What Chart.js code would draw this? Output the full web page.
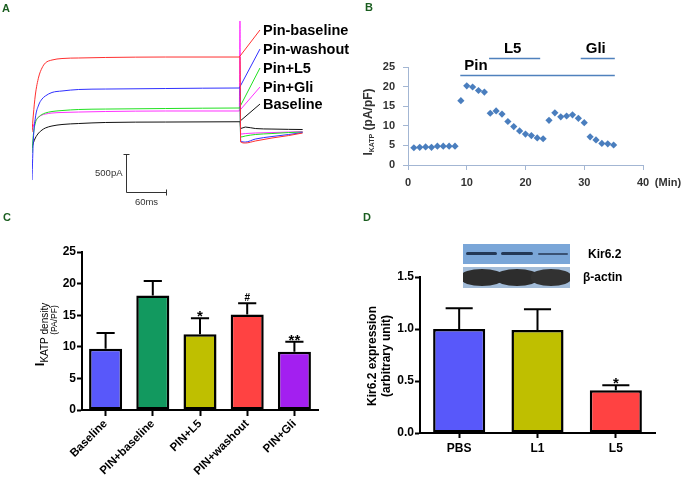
<!DOCTYPE html>
<html>
<head>
<meta charset="utf-8">
<script src="https://cdn.jsdelivr.net/npm/chart.js@4.4.1/dist/chart.umd.min.js"></script>
<style>
  body { margin: 0; background: #fff; }
  #fig { position: relative; width: 685px; height: 481px; overflow: hidden; font-family: "Liberation Sans", Arial, sans-serif; }
  canvas { position: absolute; }
  .tag { position: absolute; font-weight: bold; font-size: 11px; line-height: 11px; color: #1b5e20; }
  .blot { position: absolute; overflow: hidden; }
  .blot i { position: absolute; display: block; filter: blur(0.7px); }
  .blotname { position: absolute; font-weight: bold; font-size: 12px; line-height: 14px; color: #000; }
</style>
</head>
<body>
<div id="fig">
  <canvas id="chartA" width="358" height="215" style="left:0;top:0;width:358px;height:215px"></canvas>
  <canvas id="chartB" width="327" height="215" style="left:358px;top:0;width:327px;height:215px"></canvas>
  <canvas id="chartC" width="358" height="266" style="left:0;top:215px;width:358px;height:266px"></canvas>
  <canvas id="chartD" width="327" height="266" style="left:358px;top:215px;width:327px;height:266px"></canvas>

  <div class="tag" style="left:2px;top:3px">A</div>
  <div class="tag" style="left:365px;top:2px">B</div>
  <div class="tag" style="left:3px;top:212px">C</div>
  <div class="tag" style="left:363px;top:212px">D</div>

  <!-- western blot inset -->
  <div class="blot" style="left:463px;top:244px;width:107px;height:20px;background:#7aa6d8">
    <i style="left:3px;top:8px;width:31px;height:3px;background:#233856;border-radius:2px"></i>
    <i style="left:38px;top:8px;width:32px;height:3px;background:#233856;border-radius:2px"></i>
    <i style="left:75px;top:8.5px;width:30px;height:2.5px;background:#3a5274;border-radius:2px"></i>
  </div>
  <div class="blot" style="left:463px;top:267px;width:107px;height:21px;background:#a3bcd8">
    <i style="left:-2px;top:2px;width:42px;height:17px;background:#2d2d2d;border-radius:50%/42%"></i>
    <i style="left:33px;top:2px;width:42px;height:17px;background:#2d2d2d;border-radius:50%/42%"></i>
    <i style="left:68px;top:2px;width:40px;height:17px;background:#323232;border-radius:50%/42%"></i>
  </div>
  <div class="blotname" style="left:588px;top:247px">Kir6.2</div>
  <div class="blotname" style="left:583px;top:270px">β-actin</div>
</div>

<script>
const FONT = '"Liberation Sans", Arial, sans-serif';
Chart.defaults.font.family = FONT;
Chart.defaults.color = '#000';
Chart.defaults.animation = false;
Chart.defaults.plugins.legend.display = false;
Chart.defaults.plugins.tooltip.enabled = false;

// ---- A: current traces (time in ms, current in pA) ----
const traceTime = [0, 2, 5, 10, 15, 20, 30, 45, 70, 110, 200, 311, 312, 313, 320, 335, 360, 385, 406];
const tracePinBaseline = [-27, 201, 469, 710, 831, 898, 938, 958, 965, 972, 978, 978, 978, -161, -174, -147, -107, -74, -40];
const tracePinWashout = [-670, -134, 161, 335, 415, 456, 503, 523, 543, 549, 556, 563, 563, -147, -161, -121, -87, -60, -34];
const tracePinL5 = [-308, -67, 94, 174, 208, 228, 248, 261, 275, 281, 288, 295, 295, -94, -80, -60, -47, -34, -27];
const tracePinGli = [0, 54, 121, 174, 201, 214, 228, 235, 241, 248, 255, 255, 1461, -54, -47, -40, -34, -27, -20];
const traceBaseline = [-241, -174, -107, -40, 0, 27, 54, 74, 87, 101, 107, 111, 111, 20, 40, 20, 13, 9, 7];
const traceNames = ['Pin-baseline', 'Pin-washout', 'Pin+L5', 'Pin+Gli', 'Baseline'];
const traceColors = ['#ff3030', '#3030ff', '#20e020', '#ff30ff', '#111111'];
const traceLabelLevel = [1340, 1085, 831, 576, 348];
const traceLabelTime = 342;
const scaleBarMs = 60;
const scaleBarPA = 500;

// ---- B: time course ----
const minutes = [1, 2, 3, 4, 5, 6, 7, 8, 9, 10, 11, 12, 13, 14, 15, 16, 17, 18, 19, 20,
                 21, 22, 23, 24, 25, 26, 27, 28, 29, 30, 31, 32, 33, 34, 35];
const ikatp = [4.4, 4.5, 4.6, 4.5, 4.8, 4.8, 4.8, 4.8, 16.4, 20.2, 19.9, 19.0, 18.6, 13.2, 13.8, 13.0, 11.1, 9.8, 8.7, 7.9,
               7.5, 6.9, 6.7, 11.4, 13.3, 12.3, 12.5, 12.8, 11.9, 10.8, 7.2, 6.4, 5.5, 5.4, 5.1];
const drugNames = ['Pin', 'L5', 'Gli'];
const drugStart = [8.9, 13.8, 29.4];
const drugEnd = [35.2, 22.5, 35.2];
const drugLevel = [22.9, 27.3, 27.3];

// ---- C: KATP density ----
const groupsC = ['Baseline', 'PIN+baseline', 'PIN+L5', 'PIN+washout', 'PIN+Gli'];
const densityC = [9.7, 18.1, 12.0, 15.1, 9.2];
const semC = [2.5, 2.3, 2.5, 1.8, 1.6];
const marksC = ['', '', '*', '#', '**'];
const colorsC = ['#5858fa', '#12995f', '#bfbf00', '#ff4242', '#a31ff0'];

// ---- D: Kir6.2 expression ----
const groupsD = ['PBS', 'L1', 'L5'];
const kirD = [1.00, 0.99, 0.41];
const semD = [0.20, 0.20, 0.05];
const marksD = ['', '', '*'];
const colorsD = ['#5858fa', '#bfbf00', '#ff4242'];

// texte vertical en plusieurs morceaux (pour les indices)
function drawVertical(ctx, cx, cy, parts) {
    ctx.save();
    ctx.translate(cx, cy);
    ctx.rotate(-Math.PI / 2);
    ctx.textBaseline = 'middle';
    ctx.textAlign = 'left';
    let total = 0;
    parts.forEach(p => { ctx.font = p.font; p.w = ctx.measureText(p.text).width; total += p.w; });
    let pos = -total / 2;
    parts.forEach(p => {
        ctx.font = p.font;
        ctx.fillStyle = p.color || '#000';
        ctx.fillText(p.text, pos, p.dy || 0);
        pos += p.w;
    });
    ctx.restore();
}

// ---------- Panel A ----------
const traceSets = [tracePinBaseline, tracePinWashout, tracePinL5, tracePinGli, traceBaseline];
const stepIdx = 11;
const aDatasets = [];
traceSets.forEach((vals, i) => {
    aDatasets.push({
        data: traceTime.map((t, k) => ({ x: t, y: vals[k] })),
        borderColor: traceColors[i], borderWidth: 1, pointRadius: 0,
        cubicInterpolationMode: 'monotone'
    });
    aDatasets.push({
        data: [{ x: traceTime[stepIdx], y: vals[stepIdx] }, { x: traceLabelTime, y: traceLabelLevel[i] }],
        borderColor: traceColors[i], borderWidth: 1, pointRadius: 0
    });
});

const aOverlay = {
    id: 'aOverlay',
    afterDraw(chart) {
        const { ctx, scales: { x, y } } = chart;
        ctx.save();
        ctx.fillStyle = '#000';
        ctx.font = 'bold 14.5px ' + FONT;
        ctx.textBaseline = 'middle';
        ctx.textAlign = 'left';
        traceNames.forEach((n, i) => {
            ctx.fillText(n, x.getPixelForValue(traceLabelTime) + 3, y.getPixelForValue(traceLabelLevel[i]) + 1);
        });
        // barre d'échelle
        const x0 = Math.round(x.getPixelForValue(141)) + 0.5;
        const y0 = Math.round(y.getPixelForValue(-827)) + 0.5;
        const x1 = Math.round(x.getPixelForValue(141 + scaleBarMs)) + 0.5;
        const y1 = Math.round(y.getPixelForValue(-827 + scaleBarPA)) + 0.5;
        ctx.strokeStyle = '#333';
        ctx.lineWidth = 1;
        ctx.beginPath();
        ctx.moveTo(x0, y1); ctx.lineTo(x0, y0); ctx.lineTo(x1, y0);
        ctx.moveTo(x0 - 3, y1); ctx.lineTo(x0 + 3, y1);
        ctx.moveTo(x1, y0 - 3); ctx.lineTo(x1, y0 + 3);
        ctx.stroke();
        ctx.fillStyle = '#333';
        ctx.font = '9.5px ' + FONT;
        ctx.textAlign = 'right';
        ctx.fillText('500pA', x0 - 4, (y0 + y1) / 2);
        ctx.textAlign = 'center';
        ctx.fillText('60ms', (x0 + x1) / 2, y0 + 10);
        ctx.restore();
    }
};

new Chart(document.getElementById('chartA'), {
    type: 'line',
    data: { datasets: aDatasets },
    options: {
        responsive: false,
        layout: { padding: { left: 32, right: 52.7, top: 10.6, bottom: 17.8 } },
        scales: {
            x: { type: 'linear', min: 0, max: 410, display: false },
            y: { min: -900, max: 1600, display: false }
        }
    },
    plugins: [aOverlay]
});

// ---------- Panel B ----------
const axisB = '#a3b6d3';
const bOverlay = {
    id: 'bOverlay',
    afterDraw(chart) {
        const { ctx, chartArea, scales: { x, y } } = chart;
        ctx.save();
        ctx.strokeStyle = '#4f81bd';
        ctx.lineWidth = 1.5;
        ctx.fillStyle = '#000';
        ctx.font = 'bold 15px ' + FONT;
        ctx.textBaseline = 'middle';
        drugNames.forEach((n, i) => {
            const xa = x.getPixelForValue(drugStart[i]);
            const xb = x.getPixelForValue(drugEnd[i]);
            const yy = Math.round(y.getPixelForValue(drugLevel[i])) + 0.5;
            ctx.beginPath(); ctx.moveTo(xa, yy); ctx.lineTo(xb, yy); ctx.stroke();
            if (i === 0) {
                ctx.textAlign = 'left';
                ctx.fillText(n, xa + 4, yy - 10);
            } else {
                ctx.textAlign = 'center';
                ctx.fillText(n, (xa + xb) / 2 - 2, yy - 10);
            }
        });
        ctx.font = 'bold 11px ' + FONT;
        ctx.fillStyle = '#333';
        ctx.textAlign = 'center';
        ctx.fillText('(Min)', chartArea.right + 25, chartArea.bottom + 18);
        drawVertical(ctx, chartArea.left - 39, (chartArea.top + chartArea.bottom) / 2 + 6, [
            { text: 'I', font: 'bold 12px ' + FONT, color: '#333' },
            { text: 'KATP', font: 'bold 7px ' + FONT, dy: 3, color: '#333' },
            { text: ' (pA/pF)', font: 'bold 12px ' + FONT, color: '#333' }
        ]);
        ctx.restore();
    }
};

new Chart(document.getElementById('chartB'), {
    type: 'scatter',
    data: {
        datasets: [{
            data: minutes.map((m, i) => ({ x: m, y: ikatp[i] })),
            pointStyle: 'rectRot', pointRadius: 3.6,
            pointBackgroundColor: '#4a7ebe', pointBorderColor: '#4a7ebe', pointBorderWidth: 0
        }]
    },
    options: {
        responsive: false,
        layout: { padding: { top: 67, right: 42, left: 0, bottom: 0 } },
        scales: {
            x: {
                type: 'linear', min: 0, max: 40,
                ticks: { stepSize: 10, color: '#333', font: { weight: 'bold', size: 11 }, padding: 6 },
                grid: { drawOnChartArea: false, tickLength: 5, color: axisB },
                border: { color: axisB },
                afterFit: s => { s.height = 50; }
            },
            y: {
                min: 0, max: 25,
                ticks: { stepSize: 5, color: '#333', font: { weight: 'bold', size: 11 }, padding: 8 },
                grid: { drawOnChartArea: false, tickLength: 5, color: axisB },
                border: { color: axisB },
                afterFit: s => { s.width = 50; }
            }
        }
    },
    plugins: [bOverlay]
});

// ---------- barres d'erreur ----------
function errorBars(errs, marks, capFrac) {
    return {
        id: 'errorBars',
        afterDatasetsDraw(chart) {
            const ctx = chart.ctx;
            const yScale = chart.scales.y;
            const vals = chart.data.datasets[0].data;
            ctx.save();
            ctx.strokeStyle = '#000';
            ctx.lineWidth = 2;
            ctx.fillStyle = '#000';
            ctx.textAlign = 'center';
            ctx.textBaseline = 'alphabetic';
            chart.getDatasetMeta(0).data.forEach((bar, i) => {
                const top = yScale.getPixelForValue(vals[i] + errs[i]);
                const half = bar.width * capFrac / 2;
                ctx.beginPath();
                ctx.moveTo(bar.x, bar.y);
                ctx.lineTo(bar.x, top);
                ctx.moveTo(bar.x - half, top);
                ctx.lineTo(bar.x + half, top);
                ctx.stroke();
                const m = marks[i];
                if (m === '#') {
                    ctx.font = 'bold 10px ' + FONT;
                    ctx.fillText(m, bar.x, top - 2);
                } else if (m) {
                    ctx.font = 'bold 15px ' + FONT;
                    ctx.fillText(m, bar.x, top + 3);
                }
            });
            ctx.restore();
        }
    };
}

function barAxes(yOpts, rotated, xHeight, yWidth) {
    return {
        x: {
            grid: { drawOnChartArea: false, offset: false, tickLength: rotated ? 6 : 5, tickWidth: 2, tickColor: '#000' },
            border: { color: '#000', width: 2 },
            ticks: {
                color: '#000', autoSkip: false,
                font: { weight: 'bold', size: rotated ? 11.5 : 12 },
                maxRotation: rotated ? 45 : 0, minRotation: rotated ? 45 : 0,
                padding: rotated ? 1 : 3
            },
            afterFit: s => { s.height = xHeight; }
        },
        y: Object.assign({
            grid: { drawOnChartArea: false, tickLength: 5, tickWidth: 2, tickColor: '#000' },
            border: { color: '#000', width: 2 },
            afterFit: s => { s.width = yWidth; }
        }, yOpts)
    };
}

// ---------- Panel C ----------
const cTitle = {
    id: 'cTitle',
    afterDraw(chart) {
        const { ctx, chartArea } = chart;
        const mid = (chartArea.top + chartArea.bottom) / 2;
        drawVertical(ctx, chartArea.left - 42, mid + 3.5, [
            { text: 'I', font: 'bold 13px ' + FONT },
            { text: 'KATP density', font: '10px ' + FONT, dy: 5 }
        ]);
        drawVertical(ctx, chartArea.left - 27, mid - 11, [
            { text: '(PA/PF)', font: '8.5px ' + FONT }
        ]);
    }
};

new Chart(document.getElementById('chartC'), {
    type: 'bar',
    data: {
        labels: groupsC,
        datasets: [{
            data: densityC, backgroundColor: colorsC, borderColor: '#000', borderWidth: 2.5,
            borderSkipped: false, barPercentage: 0.7, categoryPercentage: 1
        }]
    },
    options: {
        responsive: false,
        layout: { padding: { top: 37, right: 40, left: 0, bottom: 0 } },
        scales: barAxes({
            min: 0, max: 25,
            ticks: { stepSize: 5, color: '#000', font: { weight: 'bold', size: 12 }, padding: 1 }
        }, true, 71, 82)
    },
    plugins: [errorBars(semC, marksC, 0.55), cTitle]
});

// ---------- Panel D ----------
const dTitle = {
    id: 'dTitle',
    afterDraw(chart) {
        const { ctx, chartArea } = chart;
        const mid = (chartArea.top + chartArea.bottom) / 2 + 1;
        drawVertical(ctx, chartArea.left - 47, mid, [{ text: 'Kir6.2 expression', font: 'bold 12px ' + FONT }]);
        drawVertical(ctx, chartArea.left - 33, mid, [{ text: '(arbitrary unit)', font: 'bold 12px ' + FONT }]);
    }
};

new Chart(document.getElementById('chartD'), {
    type: 'bar',
    data: {
        labels: groupsD,
        datasets: [{
            data: kirD, backgroundColor: colorsD, borderColor: '#000', borderWidth: 2.5,
            borderSkipped: false, barPercentage: 0.665, categoryPercentage: 1
        }]
    },
    options: {
        responsive: false,
        layout: { padding: { top: 62, right: 30, left: 0, bottom: 0 } },
        scales: barAxes({
            min: 0, max: 1.5,
            ticks: { stepSize: 0.5, color: '#000', font: { weight: 'bold', size: 12 }, padding: 1,
                     callback: v => v.toFixed(1) }
        }, false, 48, 62)
    },
    plugins: [errorBars(semD, marksD, 0.52), dTitle]
});
</script>
</body>
</html>
